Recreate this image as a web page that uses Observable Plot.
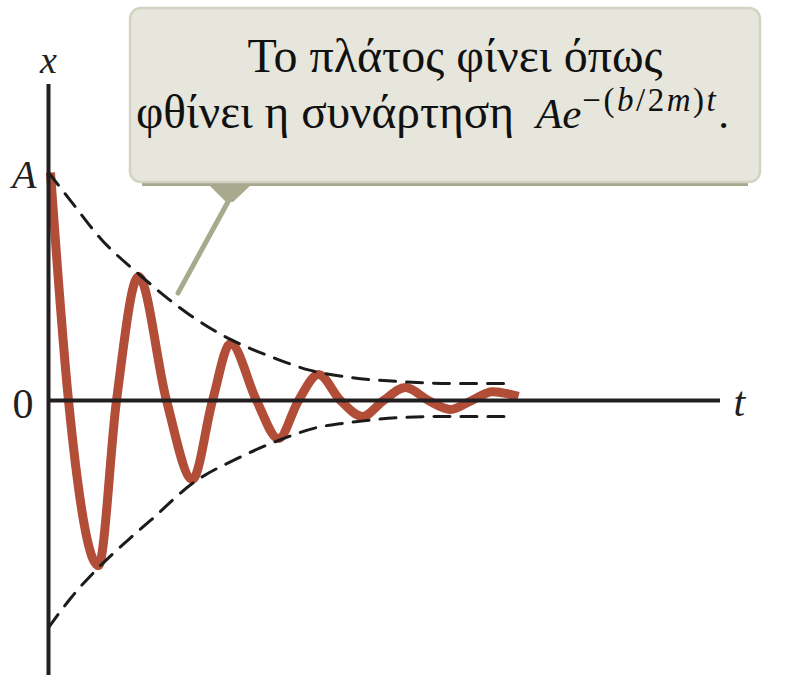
<!DOCTYPE html>
<html><head><meta charset="utf-8">
<script src="https://cdn.jsdelivr.net/npm/d3@7"></script>
<script src="https://cdn.jsdelivr.net/npm/@observablehq/plot@0.6"></script>
<style>body{margin:0;background:#fff;}</style>
</head><body><div id="chart"></div>
<script>
// Damped oscillation x(t): extrema and zero crossings (A = 1)
const curveT = [0.02, 0.20, 0.50, 0.68, 0.90, 1.18, 1.44, 1.64, 1.82, 2.08, 2.30, 2.50, 2.70, 2.92, 3.14, 3.35, 3.57, 3.80, 4.02, 4.23, 4.44, 4.70];
const curveX = [1.00, 0, -0.724, 0, 0.544, 0, -0.346, 0, 0.250, 0, -0.167, 0, 0.114, 0, -0.070, 0, 0.057, 0, -0.039, 0, 0.039, 0.018];

// Envelope +/- A e^{-(b/2m)t} (dashed)
const upperT = [0, 0.22, 0.52, 0.92, 1.42, 1.82, 2.22, 2.62, 3.02, 3.52, 4.02, 4.59];
const upperX = [1.0, 0.877, 0.711, 0.548, 0.373, 0.268, 0.193, 0.132, 0.101, 0.083, 0.075, 0.075];
const lowerT = [0, 0.22, 0.49, 0.79, 1.02, 1.45, 1.89, 2.30, 2.69, 3.02, 3.52, 4.02, 4.59];
const lowerX = [-0.996, -0.868, -0.737, -0.614, -0.526, -0.360, -0.254, -0.175, -0.118, -0.096, -0.075, -0.070, -0.070];

// Axes
const tExtent = [0, 6.72];
const xExtent = [-1.206, 1.386];
const yTickValues = [1, 0];
const yTickLabels = ["A", "0"];
const xAxisTitle = "x";
const tAxisTitle = "t";

// Callout
const calloutLine1 = "Το πλάτος φίνει όπως";
const calloutLine2 = "φθίνει η συνάρτηση";
const calloutAnchor = {t: 1.30, x: 0.469};

const curve = curveT.map((t, i) => ({t, x: curveX[i]}));
const upper = upperT.map((t, i) => ({t, x: upperX[i]}));
const lower = lowerT.map((t, i) => ({t, x: lowerX[i]}));
const ticks = yTickValues.map((v, i) => ({x: v, label: yTickLabels[i]}));

const serif = "'Liberation Serif', 'DejaVu Serif', serif";

const plot = Plot.plot({
  width: 793, height: 693,
  marginLeft: 48, marginRight: 73, marginTop: 84, marginBottom: 18,
  x: {domain: tExtent, axis: null},
  y: {domain: xExtent, axis: null},
  style: {background: "#fff", fontFamily: serif},
  marks: [
    Plot.line(curve, {x: "t", y: "x", stroke: "#b24d38", strokeWidth: 9, curve: "monotone-x", strokeLinecap: "butt"}),
    Plot.line(upper, {x: "t", y: "x", stroke: "#1b1b1b", strokeWidth: 3, strokeDasharray: "16,11", curve: "monotone-x"}),
    Plot.line(lower, {x: "t", y: "x", stroke: "#1b1b1b", strokeWidth: 3, strokeDasharray: "16,11", curve: "monotone-x"}),
    Plot.ruleY([0], {x1: tExtent[0], x2: tExtent[1], stroke: "#231f20", strokeWidth: 4}),
    Plot.ruleX([0], {y1: xExtent[0], y2: xExtent[1], stroke: "#231f20", strokeWidth: 4}),
    Plot.text(ticks.slice(0, 1), {x: 0, y: "x", text: "label", textAnchor: "end", dx: -12, dy: 3, fontSize: 40, fontStyle: "italic", fill: "#231f20"}),
    Plot.text(ticks.slice(1), {x: 0, y: "x", text: "label", textAnchor: "end", dx: -15, dy: 4, fontSize: 42, fill: "#231f20"}),
    Plot.text([xAxisTitle], {x: 0, y: xExtent[1], text: d => d, dy: -24, fontSize: 38, fontStyle: "italic", fill: "#231f20"}),
    Plot.text([tAxisTitle], {x: tExtent[1], y: 0, text: d => d, textAnchor: "start", dx: 13, dy: 2, fontSize: 42, fontStyle: "italic", fill: "#231f20"})
  ]
});
document.getElementById("chart").appendChild(plot);

// Callout annotation, pointer anchored at a data position via Plot's scales
const sx = plot.scale("x"), sy = plot.scale("y");
const ax = sx.apply(calloutAnchor.t), ay = sy.apply(calloutAnchor.x);
const svg = d3.select(plot);
const g = svg.append("g").attr("class", "callout");
g.append("path")
  .attr("d", `M208,184 L252,184 L233,202 L226,202 Z`)
  .attr("fill", "#a9a98e");
g.append("line")
  .attr("x1", 229).attr("y1", 200).attr("x2", ax).attr("y2", ay)
  .attr("stroke", "#a9a98e").attr("stroke-width", 5).attr("stroke-linecap", "round");
g.append("rect")
  .attr("x", 142).attr("y", 176).attr("width", 606).attr("height", 10)
  .attr("fill", "#a8a88e");
g.append("rect")
  .attr("x", 130).attr("y", 8).attr("width", 630).attr("height", 174).attr("rx", 11)
  .attr("fill", "#e6e6dc").attr("stroke", "#d3d3c3").attr("stroke-width", 2.5);
g.append("text")
  .attr("x", 455).attr("y", 72).attr("text-anchor", "middle")
  .attr("font-family", serif).attr("font-size", 48).attr("fill", "#111")
  .text(calloutLine1);
g.append("text")
  .attr("x", 136).attr("y", 128).attr("text-anchor", "start")
  .attr("font-family", serif).attr("font-size", 48).attr("fill", "#111")
  .attr("textLength", 378).attr("lengthAdjust", "spacingAndGlyphs")
  .text(calloutLine2);
const f = g.append("text")
  .attr("x", 536).attr("y", 128).attr("text-anchor", "start")
  .attr("font-family", serif).attr("font-size", 43).attr("fill", "#111");
f.append("tspan").attr("font-style", "italic").text("Ae");
const sup = [["−(", "normal"], ["b", "italic"], ["/2", "normal"], ["m", "italic"], [")", "normal"], ["t", "italic"]];
sup.forEach(([s, st], i) => {
  const ts = f.append("tspan").attr("font-size", 33).attr("font-style", st).attr("letter-spacing", 2.5).text(s);
  if (i === 0) ts.attr("dy", -17).attr("dx", 1);
});
f.append("tspan").attr("dy", 17).attr("font-size", 43).attr("letter-spacing", 0).text(".");
</script>
</body></html>
